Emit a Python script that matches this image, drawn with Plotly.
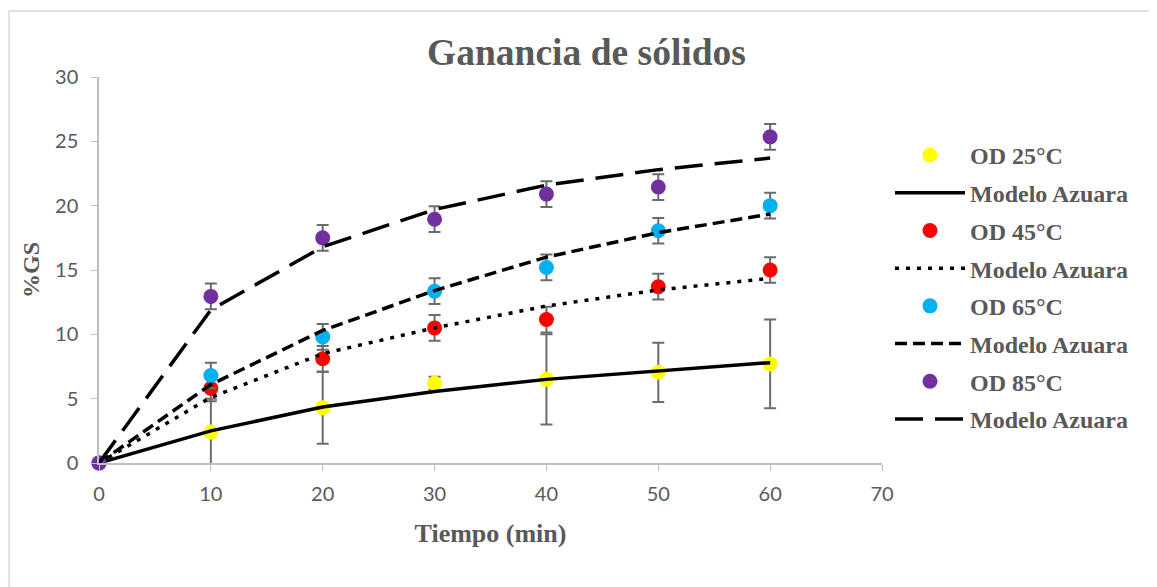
import plotly.graph_objects as go

tiempo = [0, 10, 20, 30, 40, 50, 60]

od25 = [0, 2.4, 4.3, 6.2, 6.5, 7.05, 7.7]
od25_err = [0, 2.6, 2.8, 0.5, 3.5, 2.3, 3.45]
mod25 = [0, 2.5, 4.35, 5.55, 6.5, 7.15, 7.8]

od45 = [0, 5.8, 8.1, 10.5, 11.15, 13.7, 15.0]
od45_err = [0, 1.0, 1.0, 1.0, 1.0, 1.0, 1.0]
mod45 = [0, 5.1, 8.5, 10.5, 12.2, 13.45, 14.35]

od65 = [0, 6.8, 9.8, 13.35, 15.2, 18.05, 20.0]
od65_err = [0, 1.0, 1.0, 1.0, 1.0, 1.0, 1.0]
mod65 = [0, 6.1, 10.3, 13.4, 16.0, 17.9, 19.35]

od85 = [0, 12.95, 17.5, 18.95, 20.9, 21.45, 25.35]
od85_err = [0, 1.0, 1.0, 1.0, 1.0, 1.0, 1.0]
mod85 = [0, 11.9, 16.8, 19.7, 21.6, 22.8, 23.7]

series = [
    ("OD 25°C", od25, od25_err, "#FFFF00", mod25, "solid"),
    ("OD 45°C", od45, od45_err, "#FF0000", mod45, "4px,7px"),
    ("OD 65°C", od65, od65_err, "#00B0F0", mod65, "12px,6px"),
    ("OD 85°C", od85, od85_err, "#7030A0", mod85, "28px,12px"),
]

gray = "#595959"
fig = go.Figure()
for i, (name, vals, err, col, mod, dash) in enumerate(series):
    fig.add_trace(go.Scatter(
        x=tiempo, y=vals, mode="markers", name=f"<b>{name}</b>",
        marker=dict(color=col, size=15),
        error_y=dict(type="data", array=err, visible=True, color="#6b6b6b", thickness=2, width=6),
        cliponaxis=False, legendgroup=f"g{2*i}",
    ))
    fig.add_trace(go.Scatter(
        x=tiempo, y=mod, mode="lines", name="<b>Modelo Azuara</b>",
        line=dict(color="black", width=3.5, dash=dash),
        legendgroup=f"g{2*i+1}",
    ))

fig.update_layout(
    width=1149, height=579,
    paper_bgcolor="white", plot_bgcolor="white",
    margin=dict(l=91, r=275, t=69, b=124),
    title=dict(text="<b>Ganancia de sólidos</b>", x=0.5035, xanchor="center", y=0.924, yanchor="middle",
               font=dict(family="Liberation Serif", size=37.5, color=gray)),
    showlegend=True,
    legend=dict(x=1.0102, xanchor="left", y=0.855, yanchor="top",
                font=dict(family="Liberation Serif", size=24, color=gray),
                itemwidth=70, tracegroupgap=3.5, traceorder="grouped",
                bgcolor="rgba(0,0,0,0)"),
    xaxis=dict(range=[0, 70], dtick=10, showgrid=False, zeroline=False,
               showline=True, linecolor="#bfbfbf", linewidth=1.5,
               ticks="outside", ticklen=6, tickcolor="#bfbfbf",
               ticklabelstandoff=6,
               tickfont=dict(family="Lato", size=20, color=gray),
               title=dict(text="<b>Tiempo (min)</b>", standoff=20,
                          font=dict(family="Liberation Serif", size=26, color=gray))),
    yaxis=dict(range=[0, 30], dtick=5, showgrid=False, zeroline=False,
               showline=True, linecolor="#bfbfbf", linewidth=1.5,
               ticks="outside", ticklen=6, tickcolor="#bfbfbf",
               ticklabelstandoff=9,
               tickfont=dict(family="Lato", size=20, color=gray),
               title=dict(text="<b>%GS</b>", standoff=9,
                          font=dict(family="Liberation Serif", size=24, color=gray))),
    shapes=[dict(type="rect", xref="paper", yref="paper", x0=-0.1149, x1=1.45, y0=-0.6, y1=1.171,
                 line=dict(color="#d9d9d9", width=1.5), fillcolor="rgba(0,0,0,0)", layer="below")],
)

fig.write_html("out.html")
